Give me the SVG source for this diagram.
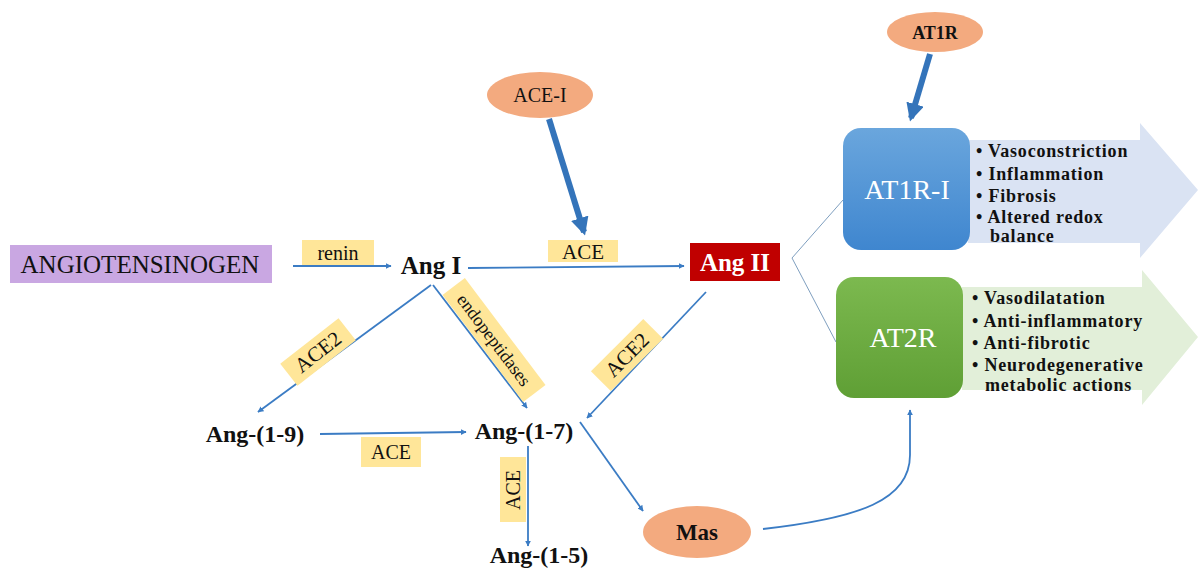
<svg xmlns="http://www.w3.org/2000/svg" width="1198" height="570" viewBox="0 0 1198 570" font-family="'Liberation Serif', 'DejaVu Serif', serif">
<defs>
<style>
text{font-family:'Liberation Serif','DejaVu Serif',serif;fill:#111}
.b{font-weight:bold}
.lab{fill:#ffe699}
.ell{fill:#f3aa7f}
.c{fill:none;stroke:#3b7cc4;stroke-width:1.8}
.thick{fill:none;stroke:#3474ba;stroke-width:6}
.bul{font-weight:bold;font-size:18px;letter-spacing:0.8px}
.w{fill:#fff;font-size:28px}
</style>
<marker id="ah" viewBox="0 0 10 10" refX="9" refY="5" markerWidth="6" markerHeight="6" orient="auto" markerUnits="userSpaceOnUse"><path d="M0,0 L10,5 L0,10 z" fill="#3b7cc4"/></marker>
<marker id="aht" viewBox="0 0 10 10" refX="8" refY="5" markerWidth="3" markerHeight="3" orient="auto"><path d="M0,0 L10,5 L0,10 z" fill="#3474ba"/></marker>
<linearGradient id="gb" x1="0" y1="0" x2="0" y2="1"><stop offset="0" stop-color="#6aa6dd"/><stop offset="1" stop-color="#3f86cf"/></linearGradient>
<linearGradient id="gg" x1="0" y1="0" x2="0" y2="1"><stop offset="0" stop-color="#7cb94f"/><stop offset="1" stop-color="#5f9f35"/></linearGradient>
</defs>
<g id="connectors">
<line class="c" x1="293" y1="266" x2="391" y2="266" marker-end="url(#ah)"/>
<line class="c" x1="468" y1="268" x2="684" y2="266" marker-end="url(#ah)"/>
<line class="thick" x1="549" y1="119" x2="584" y2="232" marker-end="url(#aht)"/>
<line class="thick" x1="930" y1="54" x2="911" y2="118" marker-end="url(#aht)"/>
<line class="c" x1="431" y1="285" x2="258" y2="412" marker-end="url(#ah)"/>
<line class="c" x1="433" y1="285" x2="527" y2="408" marker-end="url(#ah)"/>
<line class="c" x1="706" y1="292" x2="587" y2="418" marker-end="url(#ah)"/>
<line class="c" x1="320" y1="434" x2="466" y2="432" marker-end="url(#ah)"/>
<line class="c" x1="528" y1="446" x2="528" y2="546" marker-end="url(#ah)"/>
<line class="c" x1="580" y1="422" x2="643" y2="511" marker-end="url(#ah)"/>
<path class="c" d="M763,529 C860,518 910,500 910,455 L910,410" marker-end="url(#ah)"/>
<polyline fill="none" stroke="#7f9fbf" stroke-width="1" points="843,200 792,258 836,342"/>
</g>
<g id="labels">
<rect class="lab" x="302" y="240" width="72" height="25"/>
<text x="338" y="260" font-size="20" text-anchor="middle">renin</text>
<rect class="lab" x="548" y="240" width="70" height="22"/>
<text x="583" y="259" font-size="21" text-anchor="middle">ACE</text>
<rect class="lab" x="361" y="437" width="60" height="30"/>
<text x="391" y="459" font-size="20" text-anchor="middle">ACE</text>
<rect class="lab" x="500" y="457" width="26" height="65"/>
<text transform="translate(520,490) rotate(-90)" font-size="20" text-anchor="middle">ACE</text>
<g transform="translate(318,352) rotate(-38)"><rect class="lab" x="-37" y="-14" width="74" height="28"/><text x="0" y="7" font-size="21" text-anchor="middle">ACE2</text></g>
<g transform="translate(627,355) rotate(-45)"><rect class="lab" x="-37" y="-14" width="74" height="28"/><text x="0" y="7" font-size="21" text-anchor="middle">ACE2</text></g>
<g transform="translate(494,340) rotate(53)"><rect class="lab" x="-67" y="-14" width="134" height="28"/><text x="0" y="6" font-size="18" text-anchor="middle">endopeptidases</text></g>
</g>
<g id="angiotensinogen">
<rect x="10" y="245" width="262" height="38" fill="#c9a7e2"/>
<text x="140" y="273" font-size="25" text-anchor="middle">ANGIOTENSINOGEN</text>
</g>
<g id="angI"><text class="b" x="431" y="274" font-size="25" text-anchor="middle">Ang I</text></g>
<g id="aceI"><ellipse class="ell" cx="540" cy="95" rx="53" ry="23"/><text x="540" y="102" font-size="20" text-anchor="middle">ACE-I</text></g>
<g id="angII"><rect x="690" y="243" width="90" height="38" fill="#c00000"/><text class="b" x="735" y="271" font-size="25" text-anchor="middle" style="fill:#fff">Ang II</text></g>
<g id="at1r"><ellipse class="ell" cx="935" cy="32" rx="48" ry="20"/><text class="b" x="935" y="39" font-size="18" text-anchor="middle">AT1R</text></g>
<g id="at1r-effects">
<polygon points="968,140 1140,140 1140,123 1198,190 1140,258 1140,243 968,243" fill="#dae3f3"/>
<text class="bul" x="976" y="157">• Vasoconstriction</text>
<text class="bul" x="976" y="180">• Inflammation</text>
<text class="bul" x="976" y="202">• Fibrosis</text>
<text class="bul" x="976" y="223">• Altered redox</text>
<text class="bul" x="990" y="242">balance</text>
</g>
<g id="at1ri"><rect x="843" y="128" width="127" height="122" rx="18" fill="url(#gb)"/><text class="w" x="907" y="199" text-anchor="middle">AT1R-I</text></g>
<g id="at2r-effects">
<polygon points="962,287 1142,287 1142,270 1198,337 1142,405 1142,390 962,390" fill="#e2efd9"/>
<text class="bul" x="972" y="304">• Vasodilatation</text>
<text class="bul" x="972" y="327">• Anti-inflammatory</text>
<text class="bul" x="972" y="349">• Anti-fibrotic</text>
<text class="bul" x="972" y="371">• Neurodegenerative</text>
<text class="bul" x="985" y="391">metabolic actions</text>
</g>
<g id="at2r"><rect x="836" y="277" width="127" height="121" rx="18" fill="url(#gg)"/><text class="w" x="903" y="347" text-anchor="middle">AT2R</text></g>
<g id="ang19"><text class="b" x="255" y="442" font-size="24" text-anchor="middle">Ang-(1-9)</text></g>
<g id="ang17"><text class="b" x="524" y="439" font-size="24" text-anchor="middle">Ang-(1-7)</text></g>
<g id="ang15"><text class="b" x="539" y="563" font-size="24" text-anchor="middle">Ang-(1-5)</text></g>
<g id="mas"><ellipse class="ell" cx="697" cy="532" rx="54" ry="26"/><text class="b" x="697" y="540" font-size="23" text-anchor="middle">Mas</text></g>
</svg>
